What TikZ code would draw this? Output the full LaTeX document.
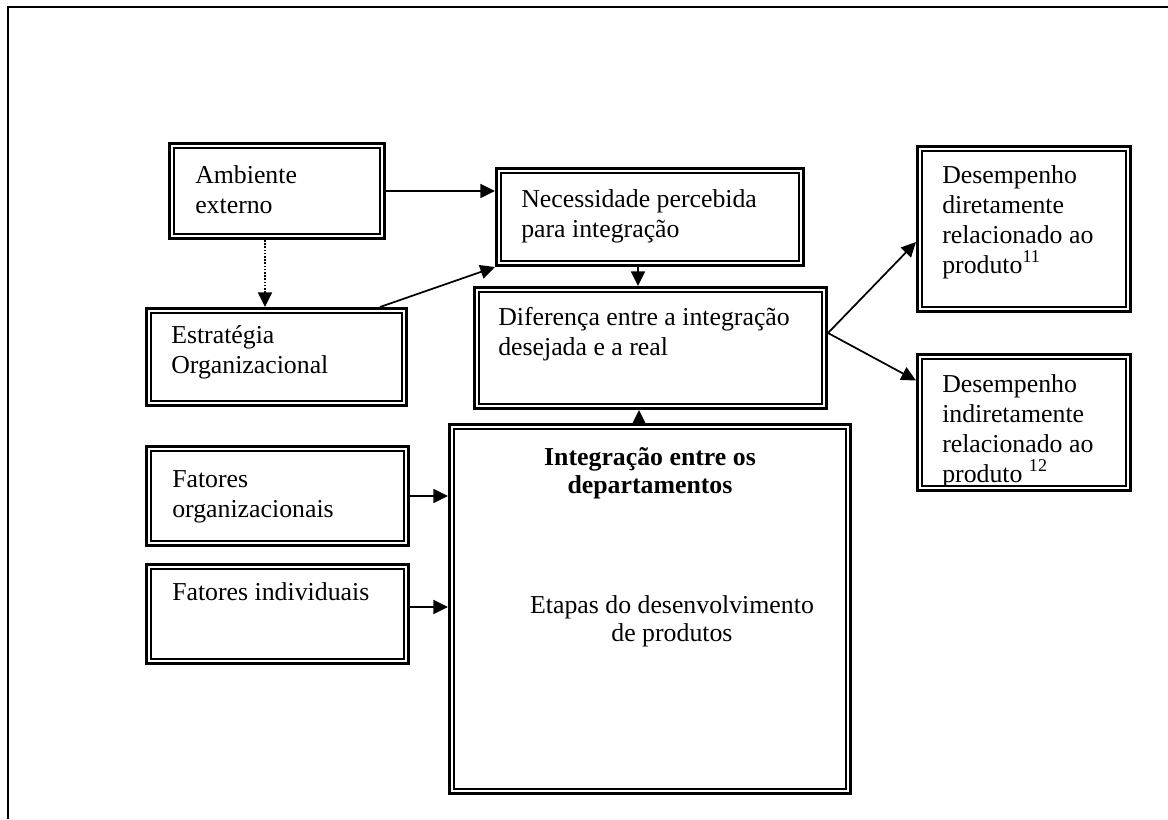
\documentclass[tikz,border=0pt]{standalone}
\usepackage{fontspec}
\setmainfont{Liberation Serif}
\usetikzlibrary{arrows.meta,fit}

% stacked lines whose baseline is that of the first line
\newcommand\leftlines[1]{\vtop{\halign{##\hfil\cr#1\crcr}}}
\newcommand\centrelines[1]{\vtop{\halign{\hfil##\hfil\cr#1\crcr}}}

\begin{document}
\begin{tikzpicture}[x=0.75pt,y=-0.75pt,
  dbox/.style={draw, line width=2.25pt, inner sep=0pt,
    path picture={\draw[line width=1.5pt]
      ([shift={(4.5,4.5)}]path picture bounding box.north west) rectangle
      ([shift={(-4.5,-4.5)}]path picture bounding box.south east);}},
  txt/.style={inner sep=0pt, anchor=base west,
    font=\fontsize{19.35pt}{22.5pt}\selectfont},
  ctxt/.style={inner sep=0pt, anchor=base,
    font=\fontsize{19.35pt}{21pt}\selectfont},
  arr/.style={line width=1.3pt, -{Triangle[length=11pt,width=10.5pt]}},
  dotarr/.style={arr, dash pattern=on 1.2pt off 1.2pt}]

\useasboundingbox (0,0) rectangle (1168,819);

% page frame (top and left edges)
\draw[line width=1.5pt] (8,819) -- (8,7) -- (1168,7);

% texts
\node[txt] (tamb) at (195,183) {\leftlines{Ambiente\cr externo}};
\node[txt] (tnec) at (521,207) {\leftlines{Necessidade percebida\cr para integração}};
\node[txt] (tdif) at (498,325) {\leftlines{Diferença entre a integração\cr desejada e a real}};
\node[txt] (test) at (171,343) {\leftlines{Estratégia\cr Organizacional}};
\node[txt] (tforg) at (172,487) {\leftlines{Fatores\cr organizacionais}};
\node[txt] (tfind) at (172,600) {Fatores individuais};
\node[txt] (tddir) at (942,183) {\leftlines{Desempenho\cr diretamente\cr relacionado ao\cr produto\textsuperscript{11}}};
\begin{scope}
  \clip (916,353) rectangle (1132,485);
  \node[txt] (tdind) at (942,392) {\leftlines{Desempenho\cr indiretamente\cr relacionado ao\cr produto \textsuperscript{12}}};
\end{scope}
\node[ctxt] (tint) at (650,465) {\bfseries\centrelines{Integração entre os\cr departamentos}};
\node[ctxt] (tetp) at (672,613) {\centrelines{Etapas do desenvolvimento\cr de produtos}};

% boxes (paths inset by half the outer line width)
\node[dbox, fit={(169.5,143.5) (384.5,238.5)}] (amb) {};
\node[dbox, fit={(496.5,168.5) (803.5,265.5)}] (nec) {};
\node[dbox, fit={(474.5,287.5) (826.5,408.5)}] (dif) {};
\node[dbox, fit={(146.5,308.5) (406.5,405.5)}] (est) {};
\node[dbox, fit={(146.5,446.5) (408.5,545.5)}] (forg) {};
\node[dbox, fit={(146.5,564.5) (408.5,663.5)}] (find) {};
\node[dbox, fit={(449.5,424.5) (850.5,793.5)}] (integ) {};
\node[dbox, fit={(917.5,146.5) (1130.5,311.5)}] (ddir) {};
\node[dbox, fit={(917.5,354.5) (1130.5,490.5)}] (dind) {};

% connectors
\draw[arr] (amb.east) -- (amb.east -| nec.west);
\draw[dotarr] ([shift={(-12,0)}]amb.south) -- ([shift={(-12,0)}]amb.south |- est.north);
\draw[arr] ([shift={(-28,0)}]est.north east) -- (nec.south west);
\draw[arr] ([shift={(-12,0)}]nec.south) -- ([shift={(-12,0)}]nec.south |- dif.north);
\draw[arr] ([shift={(-11,0)}]integ.north) -- ([shift={(-11,0)}]integ.north |- dif.south);
\draw[arr] (forg.east) -- (forg.east -| integ.west);
\draw[arr] ([shift={(0,-7)}]find.east) -- ([shift={(0,-7)}]find.east -| integ.west);
\coordinate (split) at ([shift={(0,-15)}]dif.east);
\draw[arr] (split) -- ([shift={(0,13)}]ddir.west);
\draw[arr] (split) -- ([shift={(0,-42)}]dind.west);

\end{tikzpicture}
\end{document}
